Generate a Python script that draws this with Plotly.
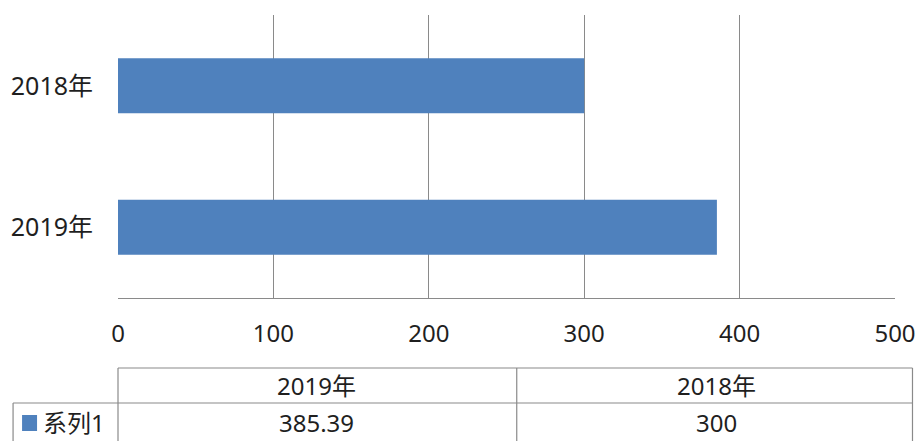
import plotly.graph_objects as go

categories = ["2019年", "2018年"]
series_name = "系列1"
values = [385.39, 300]
x_ticks = [0, 100, 200, 300, 400, 500]

BAR = "#4f81bd"
GRID = "#8a8a8a"
TXT = "#1f1f1f"
FONT = "Noto Sans, Noto Sans CJK SC, sans-serif"
FS = 24

W, H = 918, 441
L, T = 118, 15
PLOT_R, PLOT_B = 895.5, 298
R, B = W - PLOT_R, H - PLOT_B
PW, PH = PLOT_R - L, PLOT_B - T

def px(x):
    return (x - L) / PW

def py(y):
    return (PLOT_B - y) / PH

fig = go.Figure()
fig.add_trace(go.Bar(
    y=categories, x=values, orientation="h",
    marker=dict(color=BAR, line=dict(width=0)),
    name=series_name, showlegend=False, hoverinfo="x+y",
))

shapes = []
ann = []
line = dict(color=GRID, width=1.2)
shapes.append(dict(type="line", xref="paper", yref="paper", x0=px(118), x1=px(913), y0=py(368), y1=py(368), line=line))
shapes.append(dict(type="line", xref="paper", yref="paper", x0=px(13), x1=px(913), y0=py(403), y1=py(403), line=line))
shapes.append(dict(type="line", xref="paper", yref="paper", x0=px(118), x1=px(118), y0=py(368), y1=py(445), line=line))
shapes.append(dict(type="line", xref="paper", yref="paper", x0=px(517), x1=px(517), y0=py(368), y1=py(445), line=line))
shapes.append(dict(type="line", xref="paper", yref="paper", x0=px(913), x1=px(913), y0=py(368), y1=py(445), line=line))
shapes.append(dict(type="line", xref="paper", yref="paper", x0=px(13), x1=px(13), y0=py(403), y1=py(445), line=line))
shapes.append(dict(type="rect", xref="paper", yref="paper", x0=px(22), x1=px(37), y0=py(431), y1=py(415),
                   fillcolor=BAR, line=dict(width=0)))

col_centers = [317, 717]
for i, c in enumerate(categories):
    ann.append(dict(xref="paper", yref="paper", x=px(col_centers[i]), y=py(385), text=c,
                    showarrow=False, xanchor="center", yanchor="middle",
                    font=dict(family=FONT, size=FS, color=TXT)))
    v = values[i]
    ann.append(dict(xref="paper", yref="paper", x=px(col_centers[i]), y=py(422), text=f"{v:g}",
                    showarrow=False, xanchor="center", yanchor="middle",
                    font=dict(family=FONT, size=FS, color=TXT)))
ann.append(dict(xref="paper", yref="paper", x=px(41), y=py(422), text=series_name,
                showarrow=False, xanchor="left", yanchor="middle",
                font=dict(family=FONT, size=FS, color=TXT)))

fig.update_layout(
    width=W, height=H,
    margin=dict(l=L, r=R, t=T, b=B, autoexpand=False),
    paper_bgcolor="white", plot_bgcolor="white",
    bargap=0.61,
    shapes=shapes, annotations=ann,
    xaxis=dict(range=[0, 500], tickvals=x_ticks, ticktext=[str(t) for t in x_ticks],
               showgrid=True, gridcolor=GRID, gridwidth=1.2, zeroline=False,
               showline=True, linecolor=GRID, linewidth=1.2, ticks="",
               tickfont=dict(family=FONT, size=FS, color=TXT), ticklabelstandoff=14,
               fixedrange=True),
    yaxis=dict(showgrid=False, zeroline=False, showline=False, ticks="",
               tickfont=dict(family=FONT, size=25, color=TXT), ticklabelstandoff=24,
               fixedrange=True),
)

fig.write_html(
    "out.html",
    config={"displayModeBar": False},
    post_script="document.body.style.margin='0';document.body.style.overflow='hidden';",
)
